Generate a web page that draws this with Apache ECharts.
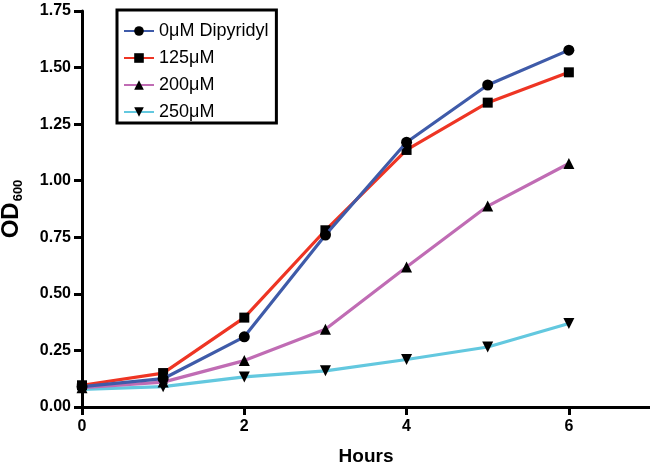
<!DOCTYPE html>
<html><head><meta charset="utf-8">
<script src="https://cdn.jsdelivr.net/npm/echarts@6/dist/echarts.min.js"></script>
<style>html,body{margin:0;padding:0;background:#fff}#c{width:650px;height:462px}</style>
</head><body><div id="c"></div>
<script>
const hours = [0, 1, 2, 3, 4, 5, 6];
const seriesNames = ['0\u03bcM Dipyridyl', '125\u03bcM', '200\u03bcM', '250\u03bcM'];
const od0 = [0.09, 0.125, 0.31, 0.76, 1.17, 1.423, 1.577];
const od125 = [0.096, 0.15, 0.395, 0.781, 1.136, 1.345, 1.479];
const od200 = [0.085, 0.11, 0.205, 0.344, 0.619, 0.888, 1.076];
const od250 = [0.078, 0.09, 0.133, 0.16, 0.21, 0.265, 0.369];
const xTicks = [0, 2, 4, 6];
const yTicks = [0, 0.25, 0.5, 0.75, 1.0, 1.25, 1.5, 1.75];

const colors = ['#3F5BA9', '#EE3524', '#C06CB4', '#63C8DF'];
const symbols = ['circle', 'rect', 'triangle', 'path://M0,0 L10,0 L5,10 Z'];
const sizes = [11, 10, 11, 11];
const dataSets = [od0, od125, od200, od250];

const chart = echarts.init(document.getElementById('c'));
const font = 'Liberation Sans, Arial, Helvetica, sans-serif';
chart.setOption({
  animation: false,
  grid: { left: 82, right: 0, top: 11, bottom: 55, containLabel: false, outerBoundsMode: 'none' },
  legend: {
    orient: 'vertical', left: 117, top: 10,
    borderColor: '#000', borderWidth: 3, borderRadius: 0,
    padding: [12, 8, 2, 6], itemGap: 9, itemWidth: 30, itemHeight: 12,
    textStyle: { fontFamily: font, fontSize: 18, color: '#000', lineHeight: 18 },
    data: seriesNames
  },
  xAxis: {
    type: 'value', min: 0, max: 7, interval: 2,
    name: 'Hours', nameLocation: 'middle', nameGap: 40,
    nameTextStyle: { fontFamily: font, fontSize: 19, fontWeight: 'bold', color: '#000' },
    axisLine: { show: true, onZero: false, lineStyle: { color: '#000', width: 3 } },
    axisTick: { show: true, length: 8, lineStyle: { width: 3, color: '#000' },
      customValues: xTicks },
    axisLabel: { fontFamily: font, fontSize: 16, fontWeight: 'bold', color: '#000', margin: 12,
      customValues: xTicks },
    splitLine: { show: false }
  },
  yAxis: {
    type: 'value', min: 0, max: 1.75, interval: 0.25,
    name: '{a|OD}{b|600}', nameLocation: 'middle', nameGap: 57, nameRotate: 90,
    nameTextStyle: {
      rich: {
        a: { fontFamily: font, fontSize: 24, fontWeight: 'bold', color: '#000', lineHeight: 28 },
        b: { fontFamily: font, fontSize: 13, fontWeight: 'bold', color: '#000', lineHeight: 28, padding: [14, 0, 0, 1] }
      }
    },
    axisLine: { show: true, onZero: false, lineStyle: { color: '#000', width: 3 } },
    axisTick: { show: true, length: 8, lineStyle: { width: 3, color: '#000' } },
    axisLabel: { fontFamily: font, fontSize: 16, fontWeight: 'bold', color: '#000', margin: 11,
      formatter: v => v.toFixed(2), customValues: yTicks },
    splitLine: { show: false }
  },
  series: dataSets.map((d, i) => ({
    name: seriesNames[i], type: 'line',
    data: hours.map((h, j) => [h, d[j]]),
    symbol: symbols[i], symbolSize: sizes[i],
    lineStyle: { color: colors[i], width: 3.2 },
    itemStyle: { color: '#000' },
    z: 10 - i
  }))
});
</script></body></html>
